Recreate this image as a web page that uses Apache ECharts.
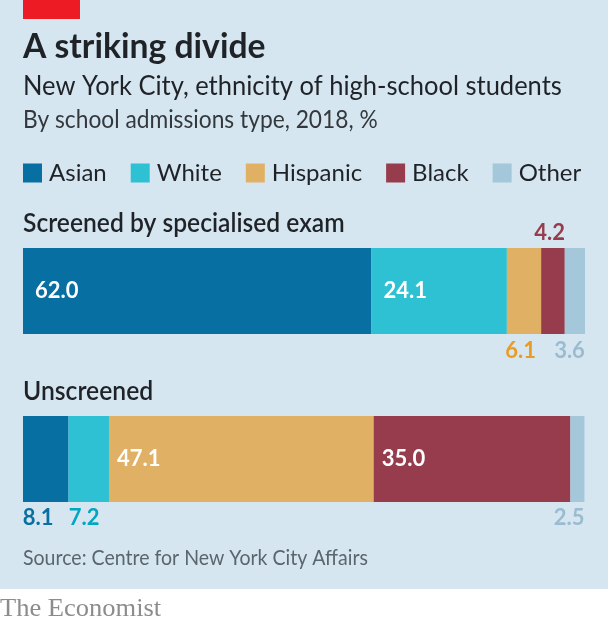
<!DOCTYPE html>
<html><head><meta charset="utf-8">
<style>html,body{margin:0;padding:0;background:#fff}#c{width:608px;height:625px}</style>
<script src="https://cdn.jsdelivr.net/npm/echarts@6/dist/echarts.min.js"></script>
</head><body><div id="c"></div>
<script>
const categories = ['Screened by specialised exam', 'Unscreened'];
const groups = ['Asian', 'White', 'Hispanic', 'Black', 'Other'];
const asian = [62.0, 8.1];
const white = [24.1, 7.2];
const hispanic = [6.1, 47.1];
const black = [4.2, 35.0];
const other = [3.6, 2.5];
const seriesValues = [asian, white, hispanic, black, other];
const colours = ['#076fa1', '#2ec1d3', '#e0b165', '#963c4c', '#a4c7da'];
const labelColours = ['#076fa1', '#00a7c0', '#e89c25', '#963c4c', '#9abbd0'];
const FONT = 'Lato';
const valueFont = { fontFamily: FONT, fontWeight: 700, fontSize: 22 };
function inside(d) {
  return Object.assign({ show: true, position: 'insideLeft', distance: d, color: '#fff' }, valueFont);
}
function below(i, align, dx, d) {
  return Object.assign({ show: true, position: 'bottom', align: align, offset: [dx, 0], distance: d, color: labelColours[i] }, valueFont);
}
const labelRules = [
  [inside(12), below(0, 'left', -23, 5)],
  [inside(12), below(1, 'left', -20, 5)],
  [below(2, 'right', 12, 6), inside(8)],
  [Object.assign({ show: true, position: 'top', align: 'right', offset: [12, 0], distance: 4, color: labelColours[3] }, valueFont), inside(8)],
  [below(4, 'right', 10, 6), below(4, 'right', 7, 5)]
];
function txt(x, y, s, size, weight, fill, sx, family) {
  return { type: 'text', x: x, y: y, z: 5, scaleX: sx, style: { text: s, fontSize: size, fontWeight: weight, fill: fill, fontFamily: family || FONT, textVerticalAlign: 'middle' } };
}
const chart = echarts.init(document.getElementById('c'), null, { renderer: 'canvas' });
chart.setOption({
  animation: false,
  grid: { left: 23, width: 562, top: 207, height: 336 },
  xAxis: { type: 'value', min: 0, max: 100, show: false },
  yAxis: { type: 'category', data: categories, inverse: true, show: false },
  legend: {
    left: 23, top: 161, padding: 0, width: 585, itemWidth: 19, itemHeight: 19, itemGap: 24, icon: 'rect',
    data: groups,
    textStyle: { fontFamily: FONT, fontSize: 24, color: '#1f2328', padding: [0, 0, 3, 2] }
  },
  series: groups.map((g, i) => ({
    name: g, type: 'bar', stack: 'total', barWidth: 86,
    itemStyle: { color: colours[i] },
    data: seriesValues[i].map((v, j) => ({ value: v, label: Object.assign({ formatter: v.toFixed(1) }, labelRules[i][j]) }))
  })),
  graphic: [
    { type: 'rect', z: -1, shape: { x: 0, y: 0, width: 608, height: 589 }, style: { fill: '#d6e6f0' } },
    { type: 'rect', z: 1, shape: { x: 23, y: 0, width: 57, height: 19 }, style: { fill: '#ed1c24' } },
    txt(23, 47, 'A striking divide', 34, 700, '#1f2328', 0.99),
    txt(23, 86, 'New York City, ethnicity of high-school students', 27, 400, '#1f2328', 0.945),
    txt(23, 120, 'By school admissions type, 2018, %', 25, 400, '#33383d', 0.91),
    txt(23, 224, categories[0], 26, 600, '#1f2328', 0.947),
    txt(23, 392, categories[1], 26, 600, '#1f2328', 0.95),
    txt(23, 558, 'Source: Centre for New York City Affairs', 21, 400, '#5a656d', 0.93),
    txt(0, 609, 'The Economist', 25, 400, '#8c8c8c', 1.06, 'Liberation Serif')
  ]
});
</script></body></html>
